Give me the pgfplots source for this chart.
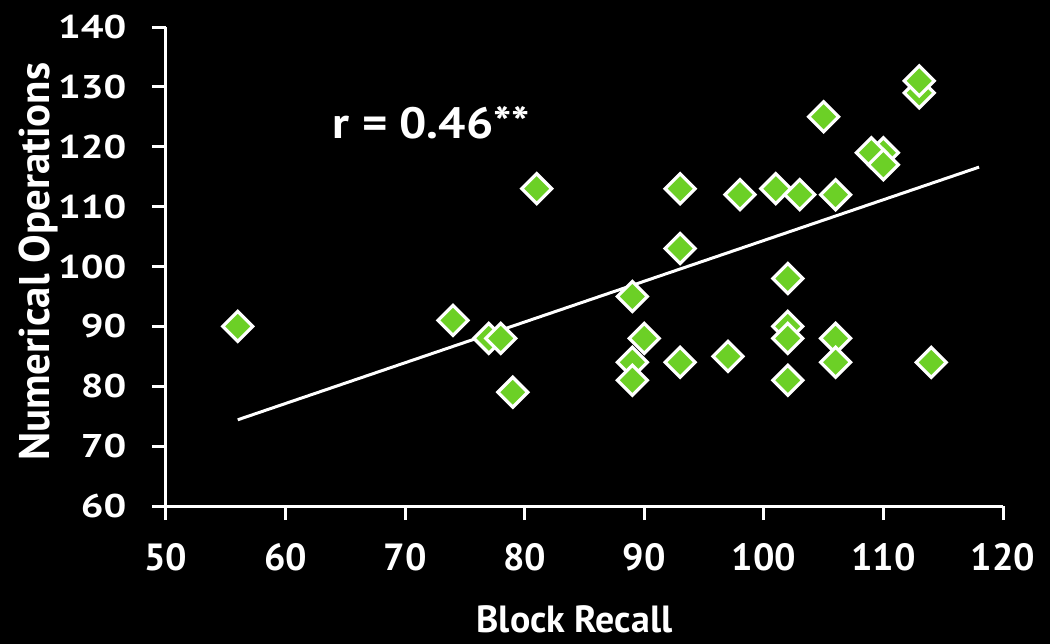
\documentclass[border=0pt]{standalone}
\usepackage{pgfplots}
\pgfplotsset{compat=1.18}
\usepackage{fontspec}
\setmainfont{PT Sans}
\definecolor{lime}{RGB}{108,208,38}
\begin{document}
\begin{tikzpicture}
\fill[black] (-83bp,-69bp) rectangle (442bp,253bp);
\begin{axis}[
  scale only axis,
  width=418.5bp, height=239.5bp,
  xmin=50, xmax=120, ymin=60, ymax=140,
  xtick={50,60,...,120}, ytick={60,70,...,140},
  axis lines*=left,
  axis line style={white, line width=1.5bp},
  tick style={white, line width=1.5bp},
  tick align=outside,
  major tick length=7bp,
  minor tick num=0,
  every tick label/.style={white},
  /pgf/number format/assume math mode=true,
  x tick label style={font=\bfseries\fontsize{19}{20}\selectfont, yshift=-8bp},
  y tick label style={font=\bfseries\fontsize{16.5}{17}\selectfont, xscale=1.22, xshift=-7bp},
  xlabel={Block Recall},
  ylabel={Numerical Operations},
  xlabel style={white, font=\bfseries\fontsize{19}{20}\selectfont, at={(axis description cs:0.488,-0.236)}, anchor=center},
  ylabel style={white, font=\bfseries\fontsize{21.5}{22}\selectfont, at={(axis description cs:-0.152,0.51)}, anchor=center},
  clip=false,
]
\addplot[white, line width=1.5bp] coordinates {(56,74.4) (118,116.6)};
\addplot[only marks, mark=square*, mark size=5.3bp,
  mark options={rotate=45, fill=lime, draw=white, line width=1.6bp}]
coordinates {
(56,90) (74,91) (77,88) (78,88) (79,79) (81,113)
(89,95) (89,84) (89,81) (90,88)
(93,113) (93,103) (93,84)
(97,85) (98,112) (101,113) (103,112)
(102,98) (102,90) (102,88) (102,81)
(105,125) (106,112) (106,88) (106,84)
(110,119) (109,119) (110,117)
(113,129) (113,131) (114,84)
};
\node[white, font=\bfseries\fontsize{22}{23}\selectfont, xscale=1.1] at (axis cs:72.2,124) {r = 0.46**};
\end{axis}
\end{tikzpicture}
\end{document}
